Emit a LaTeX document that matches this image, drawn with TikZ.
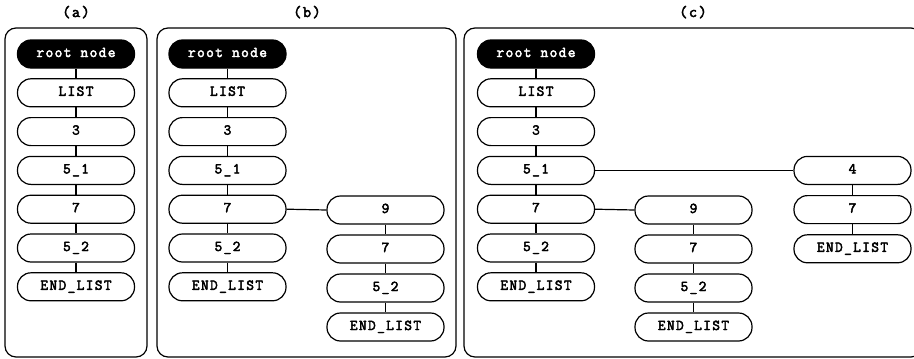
\documentclass[tikz,border=0pt]{standalone}
\usepackage{fontspec}
\newfontfamily\codefont{Latin Modern Mono}[FakeBold=3, LetterSpace=9]
\begin{document}
\begin{tikzpicture}[x=1pt,y=-1pt,
  every node/.style={font=\codefont\fontsize{15}{17}\selectfont},
  item/.style={draw, line width=1.2pt, rounded corners=13.5pt, minimum width=117pt, minimum height=28pt, inner sep=0pt, text height=0.6em, text depth=0pt},
  rootitem/.style={item, fill=black, text=white},
  panel/.style={draw, line width=1.2pt, rounded corners=11pt},
  link/.style={line width=1.2pt},
  plabel/.style={font=\codefont\fontsize{16}{18}\selectfont, inner sep=0pt, text height=0.6em, text depth=0pt}]
\useasboundingbox (0,0) rectangle (914,359);
% panels
\draw[panel] (5,28) rectangle (147,357);
\draw[panel] (157,28) rectangle (456,357);
\draw[panel] (464,28) rectangle (922,357);
\node[plabel] (la) at (76,14) {(a)};
\node[plabel] (lb) at (307,14) {(b)};
\node[plabel] (lc) at (693,14) {(c)};
% (a)
\node[rootitem] (a0) at (76,54) {root node};
\node[item] (a1) at (76,92.8) {LIST};
\node[item] (a2) at (76,131.6) {3};
\node[item] (a3) at (76,170.4) {5\_1};
\node[item] (a4) at (76,209.2) {7};
\node[item] (a5) at (76,248) {5\_2};
\node[item] (a6) at (76,286.8) {END\_LIST};
\draw[link] (a0) -- (a1) (a1) -- (a2) (a2) -- (a3) (a3) -- (a4) (a4) -- (a5) (a5) -- (a6);
% (b)
\node[rootitem] (b0) at (227.5,54) {root node};
\node[item] (b1) at (227.5,92.8) {LIST};
\node[item] (b2) at (227.5,131.6) {3};
\node[item] (b3) at (227.5,170.4) {5\_1};
\node[item] (b4) at (227.5,209.2) {7};
\node[item] (b5) at (227.5,248) {5\_2};
\node[item] (b6) at (227.5,286.8) {END\_LIST};
\draw[link] (b0) -- (b1) (b1) -- (b2) (b2) -- (b3) (b3) -- (b4) (b4) -- (b5) (b5) -- (b6);
\node[item] (b7) at (385.5,210) {9};
\node[item] (b8) at (385.5,249) {7};
\node[item] (b9) at (385.5,288) {5\_2};
\node[item] (b10) at (385.5,327) {END\_LIST};
\draw[link] (b7) -- (b8) (b8) -- (b9) (b9) -- (b10);
\draw[link] (b4.east) -- (b7.west);
% (c)
\node[rootitem] (c0) at (536,54) {root node};
\node[item] (c1) at (536,92.8) {LIST};
\node[item] (c2) at (536,131.6) {3};
\node[item] (c3) at (536,170.4) {5\_1};
\node[item] (c4) at (536,209.2) {7};
\node[item] (c5) at (536,248) {5\_2};
\node[item] (c6) at (536,286.8) {END\_LIST};
\draw[link] (c0) -- (c1) (c1) -- (c2) (c2) -- (c3) (c3) -- (c4) (c4) -- (c5) (c5) -- (c6);
\node[item] (c7) at (693.5,210) {9};
\node[item] (c8) at (693.5,249) {7};
\node[item] (c9) at (693.5,288) {5\_2};
\node[item] (c10) at (693.5,327) {END\_LIST};
\draw[link] (c7) -- (c8) (c8) -- (c9) (c9) -- (c10);
\draw[link] (c4.east) -- (c7.west);
\node[item] (c11) at (852.5,170.4) {4};
\node[item] (c12) at (852.5,209.6) {7};
\node[item] (c13) at (852.5,248.8) {END\_LIST};
\draw[link] (c11) -- (c12) (c12) -- (c13);
\draw[link] (c3.east) -- (c11.west);
\end{tikzpicture}
\end{document}
